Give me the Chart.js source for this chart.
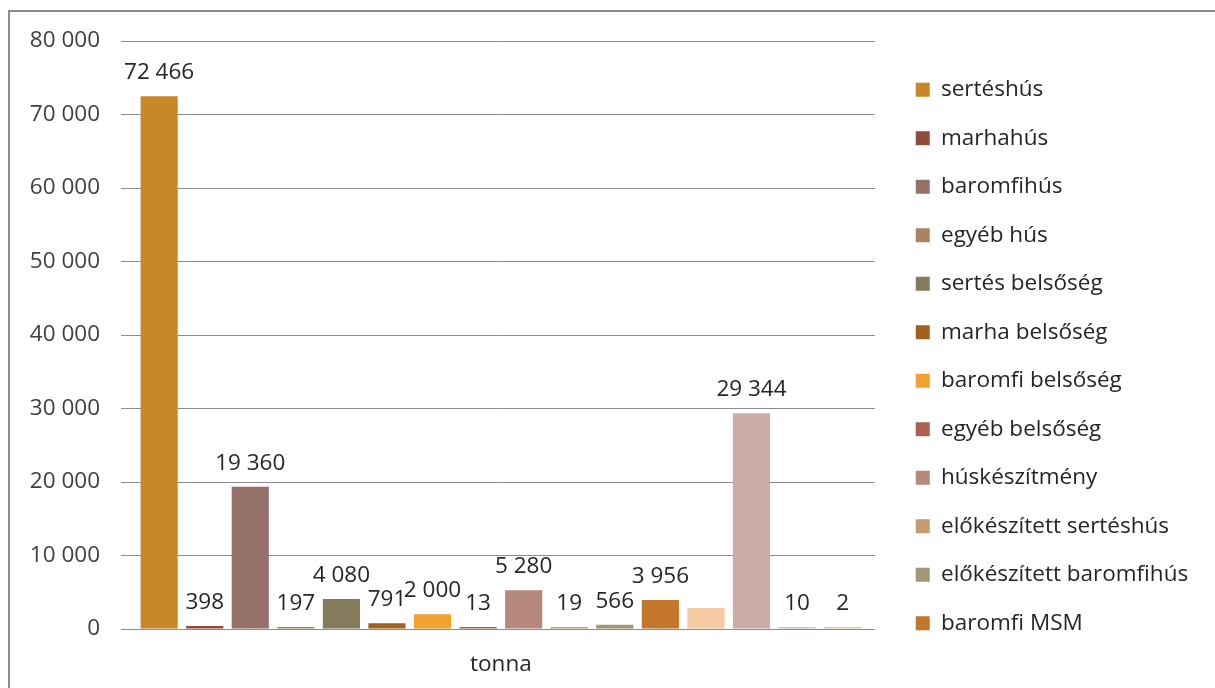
<!DOCTYPE html>
<html>
<head>
<meta charset="utf-8">
<script src="https://cdn.jsdelivr.net/npm/chart.js@4.4.1/dist/chart.umd.min.js"></script>
<style>
  html, body { margin: 0; padding: 0; background: #ffffff; }
  #wrap { position: relative; width: 1215px; height: 688px; overflow: hidden; }
  #frame { position: absolute; left: 8px; top: 10px; width: 1300px; height: 800px; border-left: 2px solid #8c8c8c; border-top: 2px solid #8c8c8c; box-sizing: border-box; }
  canvas { position: absolute; left: 0; top: 0; }
</style>
</head>
<body>
<div id="wrap">
  <div id="frame"></div>
  <canvas id="c" width="1215" height="688"></canvas>
</div>
<script>
const categories = ['tonna'];
const seriesNames = [
  'sertéshús', 'marhahús', 'baromfihús', 'egyéb hús', 'sertés belsőség', 'marha belsőség',
  'baromfi belsőség', 'egyéb belsőség', 'húskészítmény', 'előkészített sertéshús',
  'előkészített baromfihús', 'baromfi MSM', 'előkészített marhahús', 'sertés MSM',
  'marha MSM', 'egyéb MSM'
];
const seriesValues = [72466, 398, 19360, 197, 4080, 791, 2000, 13, 5280, 19, 566, 3956, 2850, 29344, 10, 2];
const showValueLabel = [true, true, true, true, true, true, true, true, true, true, true, true, false, true, true, true];
const seriesColors = [
  '#C88729', '#8E4B3C', '#967168', '#A9835F', '#847B5D', '#A2611F',
  '#F0A22E', '#A8624F', '#B5887C', '#C89B6E', '#A09876', '#C2772B',
  '#F5C9A2', '#C9ADA6', '#D3BFB9', '#D9C3AA'
];
const yTicks = [0, 10000, 20000, 30000, 40000, 50000, 60000, 70000, 80000];
const legendCount = 12;

const FONT = "'Open Sans', 'Noto Sans', sans-serif";
const FS = 22.5;
const fmt = v => String(v).replace(/\B(?=(\d{3})+(?!\d))/g, ' ');

const datasets = seriesNames.map((name, i) => ({
  label: name,
  data: [seriesValues[i]],
  backgroundColor: seriesColors[i],
  borderWidth: 0,
  minBarLength: 2,
  barPercentage: 0.815,
  categoryPercentage: 0.975
}));

const valueLabels = {
  id: 'valueLabels',
  afterDatasetsDraw(chart) {
    const ctx = chart.ctx;
    ctx.save();
    ctx.font = FS + "px " + FONT;
    ctx.fillStyle = '#262626';
    ctx.textAlign = 'center';
    ctx.textBaseline = 'alphabetic';
    chart.data.datasets.forEach((ds, i) => {
      if (!showValueLabel[i]) return;
      const el = chart.getDatasetMeta(i).data[0];
      ctx.fillText(fmt(ds.data[0]), el.x, el.y - 17);
    });
    ctx.restore();
  }
};

const legendShift = {
  id: 'legendShift',
  afterLayout(chart) {
    const lg = chart.legend;
    if (lg) {
      lg.left += 15;
      lg.right = chart.width;
      lg.width = lg.right - lg.left;
      lg.top -= 4; lg.bottom -= 4;
    }
  }
};

new Chart(document.getElementById('c'), {
  type: 'bar',
  data: { labels: categories, datasets },
  options: {
    responsive: false,
    animation: false,
    devicePixelRatio: 1,
    layout: { padding: { left: 7, right: 51, top: 41, bottom: 8 } },
    plugins: {
      tooltip: { enabled: false },
      legend: {
        position: 'right',
        labels: {
          filter: (item) => item.datasetIndex < legendCount,
          boxWidth: 14,
          boxHeight: 14,
          padding: 26,
          color: '#262626',
          font: { family: FONT, size: FS }
        }
      }
    },
    scales: {
      x: {
        afterFit(scale) { scale.height = 51; },
        grid: { display: false },
        border: { display: true, color: '#8c8c8c', width: 1 },
        ticks: { color: '#262626', font: { family: FONT, size: FS }, padding: 14 }
      },
      y: {
        min: 0,
        max: 80000,
        afterBuildTicks(scale) { scale.ticks = yTicks.map(v => ({ value: v })); },
        afterFit(scale) { scale.width = 120; },
        grid: { color: '#8c8c8c', lineWidth: 1, tickLength: 6, drawTicks: true },
        border: { display: false },
        ticks: {
          color: '#404040',
          font: { family: FONT, size: FS },
          padding: 21,
          callback: (v) => fmt(v)
        }
      }
    }
  },
  plugins: [valueLabels, legendShift]
});
</script>
</body>
</html>
